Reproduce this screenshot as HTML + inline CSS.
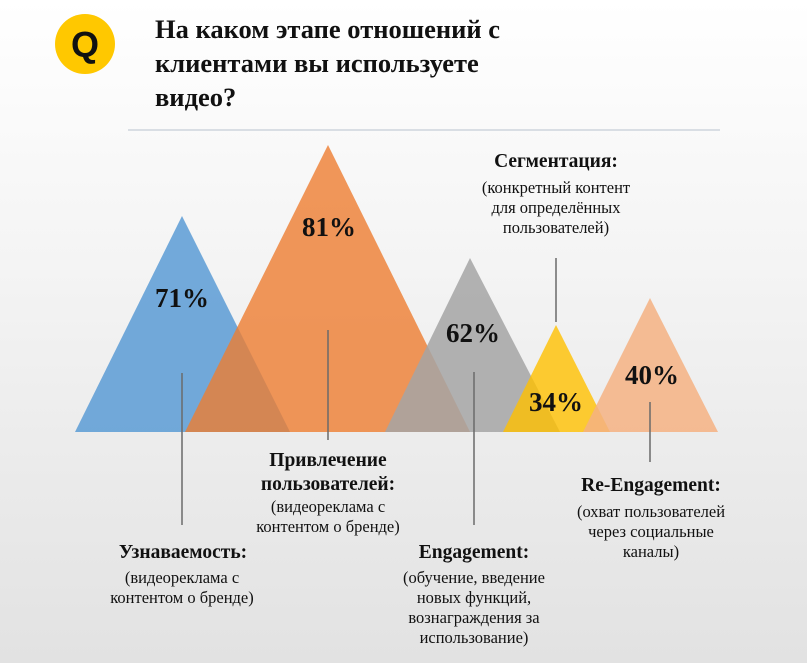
<!DOCTYPE html>
<html><head><meta charset="utf-8"><style>
html,body{margin:0;padding:0}
body{width:807px;height:663px;overflow:hidden;background:linear-gradient(180deg,#ffffff 0%,#f4f4f4 40%,#e2e2e2 100%)}
svg{display:block}
text{font-family:"Liberation Serif","Noto Serif CJK SC",serif;fill:#111}
.b{font-weight:bold;font-size:19.5px}
.s{font-size:16.5px}
.p{font-weight:bold;font-size:27px}
</style></head><body>
<svg width="807" height="663" viewBox="0 0 807 663">
<circle cx="85" cy="44" r="30" fill="#ffc800"/>
<text x="85" y="57" text-anchor="middle" style="font-family:'Liberation Sans',sans-serif;font-weight:bold;font-size:36px">Q</text>
<text x="155" y="38" style="font-weight:bold;font-size:26.5px">На каком этапе отношений с</text>
<text x="155" y="72" style="font-weight:bold;font-size:26.5px">клиентами вы используете</text>
<text x="155" y="106" style="font-weight:bold;font-size:26.5px">видео?</text>
<line x1="128" y1="130" x2="720" y2="130" stroke="#c5ced8" stroke-width="1.2"/>

<polygon points="182,216 75,432 290,432" fill="#5b9bd5" opacity="0.85"/>
<polygon points="328,145 185,432 470,432" fill="#ed7d31" opacity="0.8"/>
<polygon points="470,258 385,432 560,432" fill="#a5a5a5" opacity="0.85"/>
<polygon points="556,325 503,432 610,432" fill="#ffc000" opacity="0.8"/>
<polygon points="650,298 583,432 718,432" fill="#f4b183" opacity="0.85"/>

<g stroke="#6a6a6a" stroke-width="1.5">
<line x1="182" y1="373" x2="182" y2="525"/>
<line x1="328" y1="330" x2="328" y2="440"/>
<line x1="474" y1="372" x2="474" y2="525"/>
<line x1="556" y1="258" x2="556" y2="322"/>
<line x1="650" y1="402" x2="650" y2="462"/>
</g>

<text class="p" x="182" y="307" text-anchor="middle">71%</text>
<text class="p" x="329" y="236" text-anchor="middle">81%</text>
<text class="p" x="473" y="342" text-anchor="middle">62%</text>
<text class="p" x="556" y="411" text-anchor="middle">34%</text>
<text class="p" x="652" y="384" text-anchor="middle">40%</text>

<text class="b" x="556" y="167" text-anchor="middle">Сегментация:</text>
<text class="s" x="556" y="193" text-anchor="middle">(конкретный контент</text>
<text class="s" x="556" y="213" text-anchor="middle">для определённых</text>
<text class="s" x="556" y="233" text-anchor="middle">пользователей)</text>

<text class="b" x="328" y="466" text-anchor="middle">Привлечение</text>
<text class="b" x="328" y="490" text-anchor="middle">пользователей:</text>
<text class="s" x="328" y="512" text-anchor="middle">(видеореклама с</text>
<text class="s" x="328" y="532" text-anchor="middle">контентом о бренде)</text>

<text class="b" x="183" y="558" text-anchor="middle">Узнаваемость:</text>
<text class="s" x="182" y="583" text-anchor="middle">(видеореклама с</text>
<text class="s" x="182" y="603" text-anchor="middle">контентом о бренде)</text>

<text class="b" x="474" y="558" text-anchor="middle">Engagement:</text>
<text class="s" x="474" y="583" text-anchor="middle">(обучение, введение</text>
<text class="s" x="474" y="603" text-anchor="middle">новых функций,</text>
<text class="s" x="474" y="623" text-anchor="middle">вознаграждения за</text>
<text class="s" x="474" y="643" text-anchor="middle">использование)</text>

<text class="b" x="651" y="491" text-anchor="middle">Re-Engagement:</text>
<text class="s" x="651" y="517" text-anchor="middle">(охват пользователей</text>
<text class="s" x="651" y="537" text-anchor="middle">через социальные</text>
<text class="s" x="651" y="557" text-anchor="middle">каналы)</text>
</svg>
</body></html>
